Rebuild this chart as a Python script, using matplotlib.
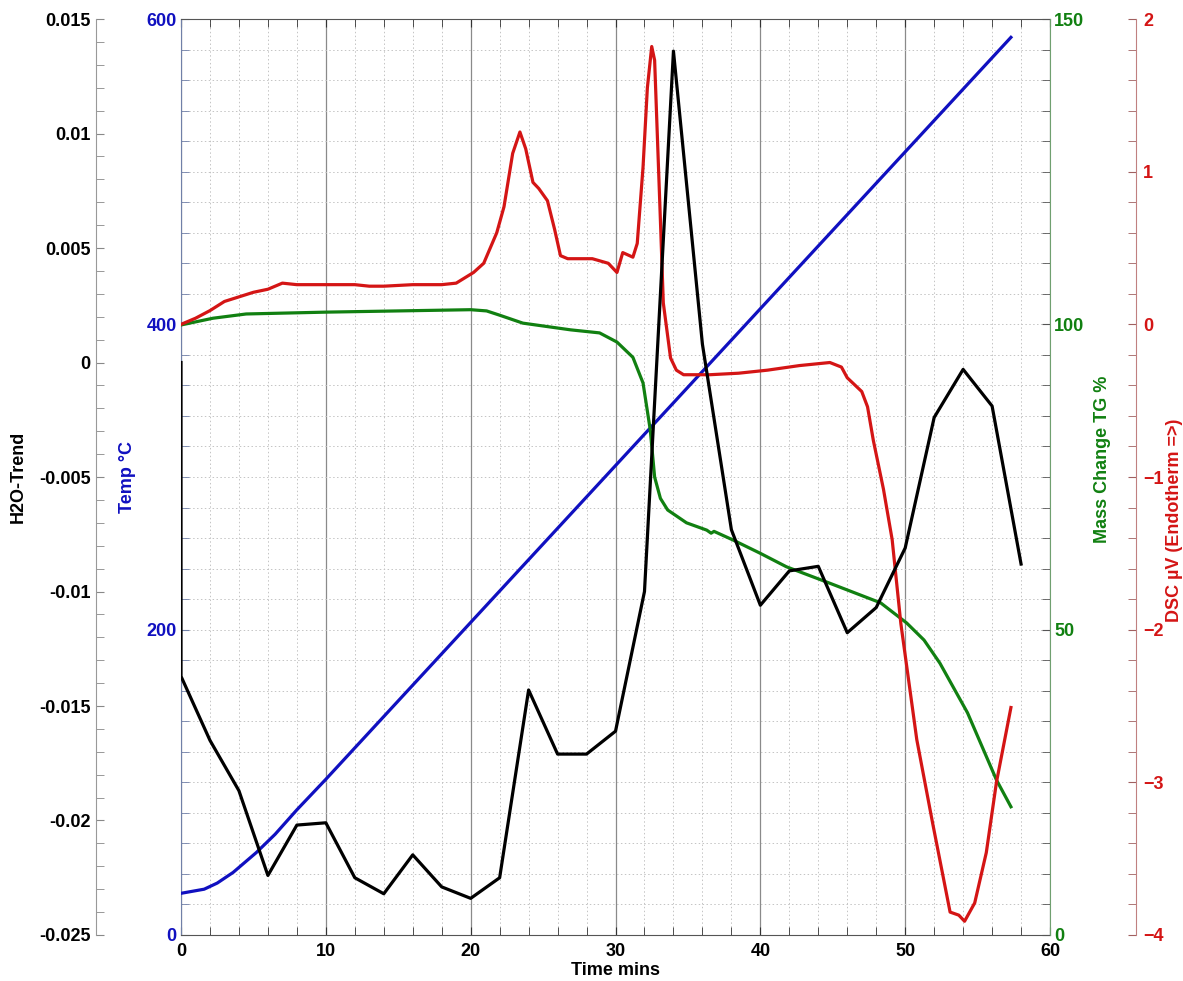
import matplotlib
matplotlib.use("Agg")
import matplotlib.pyplot as plt
from matplotlib.ticker import MultipleLocator

# Thermal analysis run: temperature programme, TG, DSC and H2O trend vs time
temp_time = [0, 1.6, 2.5, 3.6, 5.2, 6.5, 8, 10, 57.3]
temp_c = [27.3, 30, 34, 41, 54, 66, 82, 102, 588]

tg_time = [0, 2.2, 4.5, 10, 15, 20, 21.1, 22, 23.6, 24.5, 26.9, 28.9, 30.1,
           31.2, 31.9, 32.4, 32.7, 33.1, 33.6, 34.9, 36.3, 36.6, 36.8, 38.1,
           40, 41.8, 44.8, 48.3, 50.1, 51.3, 52.4, 54.3, 56.3, 57.3]
tg_pct = [99.9, 101.0, 101.7, 102.0, 102.2, 102.4, 102.2, 101.5, 100.2, 99.9,
          99.1, 98.6, 97.1, 94.6, 90.4, 82.7, 75.0, 71.5, 69.6, 67.5, 66.3,
          65.8, 66.1, 64.7, 62.5, 60.3, 57.6, 54.4, 51.1, 48.3, 44.5, 36.4,
          25.4, 21.0]

dsc_time = [0, 1, 2, 3, 4, 5, 6, 7, 8, 10, 12, 13, 14, 16, 18, 19, 20.2, 20.9,
            21.8, 22.3, 22.9, 23.4, 23.8, 24.3, 24.7, 25.3, 25.8, 26.2, 26.7,
            28.4, 29.5, 30.1, 30.5, 31.2, 31.5, 31.9, 32.2, 32.5, 32.7, 33.1,
            33.3, 33.8, 34.2, 34.7, 36.5, 38.5, 40.5, 42.7, 44.8, 45.6, 46.0,
            47.0, 47.4, 47.8, 48.5, 49.1, 49.7, 50.8, 51.9, 53.1, 53.7, 54.1,
            54.8, 55.6, 56.3, 57.3]
dsc_uv = [0.0, 0.04, 0.09, 0.15, 0.18, 0.21, 0.23, 0.27, 0.26, 0.26, 0.26,
          0.25, 0.25, 0.26, 0.26, 0.27, 0.34, 0.40, 0.60, 0.77, 1.12, 1.26,
          1.15, 0.93, 0.89, 0.81, 0.62, 0.45, 0.43, 0.43, 0.40, 0.34, 0.47,
          0.44, 0.53, 1.03, 1.55, 1.82, 1.73, 0.68, 0.14, -0.22, -0.30, -0.33,
          -0.33, -0.32, -0.30, -0.27, -0.25, -0.28, -0.35, -0.44, -0.54, -0.76,
          -1.08, -1.41, -1.96, -2.72, -3.27, -3.85, -3.87, -3.91, -3.79, -3.46,
          -3.0, -2.51]

h2o_time = [0, 0, 2, 4, 6, 8, 10, 12, 14, 16, 18, 20, 22, 24, 26, 28, 30, 32,
            34, 36, 38, 40, 42, 44, 46, 48, 50, 52, 54, 56, 58]
h2o_trend = [0.0, -0.0137, -0.0165, -0.0187, -0.0224, -0.0202, -0.0201,
             -0.0225, -0.0232, -0.0215, -0.0229, -0.0234, -0.0225, -0.0143,
             -0.0171, -0.0171, -0.0161, -0.0100, 0.0136, 0.0008, -0.0073,
             -0.0106, -0.0091, -0.0089, -0.0118, -0.0107, -0.0081, -0.0024,
             -0.0003, -0.0019, -0.0088]

BLUE = "#1010c0"
GREEN = "#118011"
RED = "#d41515"
BLACK = "#000000"
FS = 13

plt.rcParams['font.family'] = ['Liberation Sans', 'DejaVu Sans']
plt.rcParams['font.weight'] = 'bold'
plt.rcParams['font.size'] = FS

fig = plt.figure(figsize=(11.83, 9.81), dpi=100)
ax = fig.add_axes([0.153, 0.0469, 0.7346, 0.9337])

# host axis: temperature
ax.set_xlim(0, 60)
ax.set_ylim(0, 600)
ax.plot(temp_time, temp_c, color=BLUE, lw=2.3, zorder=3)
ax.xaxis.set_major_locator(MultipleLocator(10))
ax.xaxis.set_minor_locator(MultipleLocator(2))
ax.yaxis.set_major_locator(MultipleLocator(200))
ax.yaxis.set_minor_locator(MultipleLocator(20))
ax.tick_params(axis='x', which='both', direction='in', top=True, length=6,
               color='#333333', pad=6, labelsize=FS)
ax.tick_params(axis='y', which='both', direction='in', right=False, length=6,
               color='#7080a8', labelcolor=BLUE, pad=3, labelsize=FS)
ax.grid(which='minor', axis='both', ls=(0, (1.5, 2.5)), color='#c4c4c4', lw=0.7)
ax.grid(which='major', axis='y', ls=(0, (1.5, 2.5)), color='#c4c4c4', lw=0.7)
ax.grid(which='major', axis='x', ls='-', color='#8a8a8a', lw=0.9)
ax.set_axisbelow(True)
for side in ['top', 'bottom']:
    ax.spines[side].set_color('#555555')
ax.spines['left'].set_color('#7080a8')
ax.spines['right'].set_visible(False)
ax.set_xlabel('Time mins', fontweight='bold', labelpad=1)
ax.set_ylabel('Temp °C', color=BLUE, fontweight='bold')
ax.yaxis.set_label_coords(-0.052, 0.5)

# H2O trend on an outer left axis
ax_h = ax.twinx()
ax_h.set_ylim(-0.025, 0.015)
ax_h.plot(h2o_time, h2o_trend, color=BLACK, lw=2.3, zorder=3)
ax_h.yaxis.set_ticks_position('left')
ax_h.yaxis.set_label_position('left')
ax_h.spines['left'].set_position(('axes', -0.0978))
ax_h.spines['left'].set_visible(True)
ax_h.spines['left'].set_color('#999999')
for side in ['right', 'top', 'bottom']:
    ax_h.spines[side].set_visible(False)
ax_h.yaxis.set_minor_locator(MultipleLocator(0.001))
ax_h.set_yticks([0.015, 0.01, 0.005, 0, -0.005, -0.01, -0.015, -0.02, -0.025])
ax_h.set_yticklabels(['0.015', '0.01', '0.005', '0', '-0.005', '-0.01',
                      '-0.015', '-0.02', '-0.025'])
ax_h.tick_params(axis='y', which='both', direction='in', length=6,
                 color='#888888', labelcolor=BLACK, pad=4, labelsize=FS)
ax_h.set_ylabel('H2O-Trend', fontweight='bold')
ax_h.yaxis.set_label_coords(-0.177, 0.5)

# mass change (TG) on the right edge of the plot
ax_g = ax.twinx()
ax_g.set_ylim(0, 150)
ax_g.plot(tg_time, tg_pct, color=GREEN, lw=2.3, zorder=3)
for side in ['left', 'top', 'bottom']:
    ax_g.spines[side].set_visible(False)
ax_g.spines['right'].set_color('#70a070')
ax_g.yaxis.set_major_locator(MultipleLocator(50))
ax_g.yaxis.set_minor_locator(MultipleLocator(5))
ax_g.tick_params(axis='y', which='both', direction='in', length=6,
                 color='#555555', labelcolor=GREEN, pad=3, labelsize=FS)
ax_g.set_ylabel('Mass Change TG %', color=GREEN, fontweight='bold')
ax_g.yaxis.set_label_coords(1.051, 0.519)

# DSC signal on an outer right axis
ax_d = ax.twinx()
ax_d.set_ylim(-4, 2)
ax_d.plot(dsc_time, dsc_uv, color=RED, lw=2.3, zorder=3)
ax_d.spines['right'].set_position(('axes', 1.099))
ax_d.spines['right'].set_color('#c08080')
for side in ['left', 'top', 'bottom']:
    ax_d.spines[side].set_visible(False)
ax_d.yaxis.set_major_locator(MultipleLocator(1))
ax_d.yaxis.set_minor_locator(MultipleLocator(0.2))
ax_d.tick_params(axis='y', which='both', direction='in', length=6,
                 color='#a06060', labelcolor=RED, pad=5, labelsize=FS)
ax_d.set_ylabel('DSC µV (Endotherm =>)', color=RED, fontweight='bold')
ax_d.yaxis.set_label_coords(1.133, 0.453)

# keep the water trend drawn on top
ax_h.set_zorder(ax_d.get_zorder() + 1)

fig.savefig('out.png', dpi=100)
